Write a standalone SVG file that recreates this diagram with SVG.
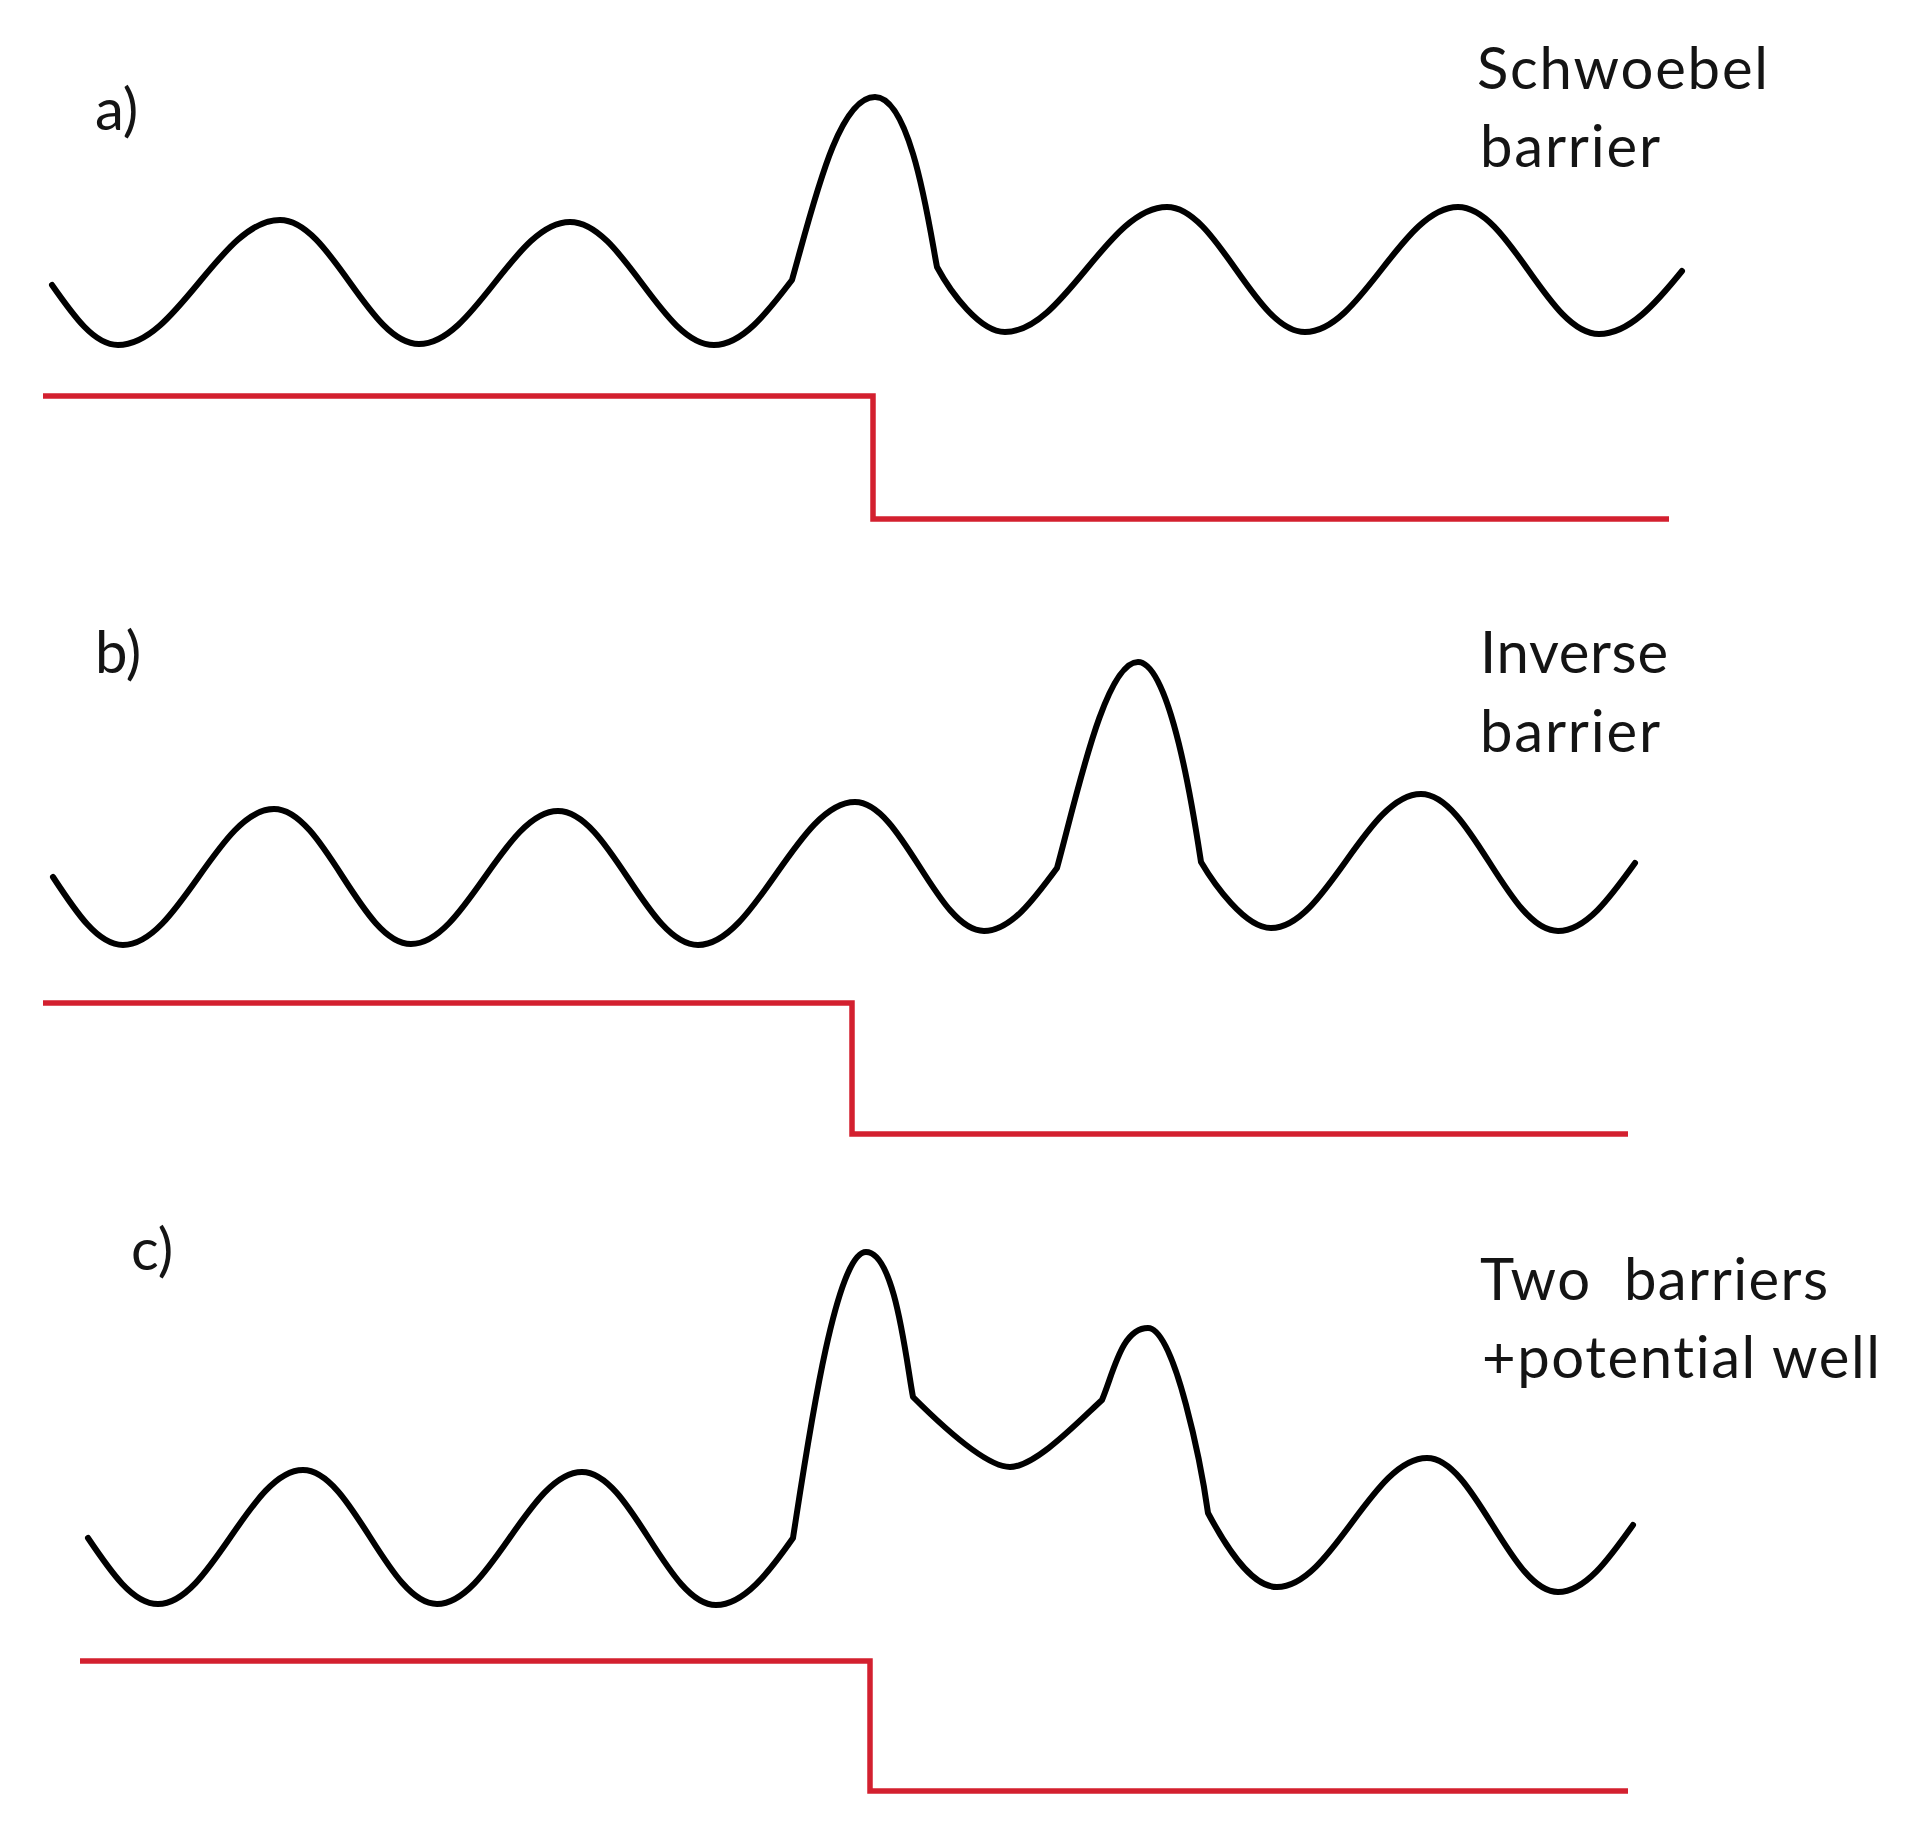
<svg xmlns="http://www.w3.org/2000/svg" width="1912" height="1840" viewBox="0 0 1912 1840">
<style>
.bg{fill:#ffffff}
.wave{fill:none;stroke:#000000;stroke-width:6;stroke-linecap:round;stroke-linejoin:round}
.step{fill:none;stroke:#d3202f;stroke-width:5.5;stroke-linejoin:miter}
.lbl{font-family:Lato,"Liberation Sans","DejaVu Sans",sans-serif;font-size:58px;fill:#141414;font-variant-ligatures:none}
</style>
<rect class="bg" x="0" y="0" width="1912" height="1840"/>
<g id="panel-a">
<text class="lbl" x="95" y="130" font-size="60">a)</text>
<text class="lbl" x="1477" y="89" textLength="291" lengthAdjust="spacing">Schwoebel</text>
<text class="lbl" x="1480" y="167" textLength="180" lengthAdjust="spacing">barrier</text>
<path class="wave" d="M52 285 C73.5 315.7 94.1 345 118 345 C177 345 221 220 280 220 C330.6 220 368.4 344 419 344 C474 344 515 222 570 222 C622.4 222 661.6 345 714 345 C742 345 766.6 313.3 792 280 C814 202 838 97 875 97 C912 97 930 232 937 267 C951 293 980 332 1005 332 C1064 332 1108 207 1167 207 C1217 207 1255 332 1305 332 C1360.7 332 1402.3 207 1458 207 C1509.3 207 1547.7 334 1599 334 C1629 334 1655.9 303.3 1682 271"/>
<path class="step" d="M43 396 H873 V519 H1669"/>
</g>
<g id="panel-b">
<text class="lbl" x="95" y="673" font-size="60">b)</text>
<text class="lbl" x="1480" y="673" textLength="188" lengthAdjust="spacing">Inverse</text>
<text class="lbl" x="1480" y="752" textLength="180" lengthAdjust="spacing">barrier</text>
<path class="wave" d="M53 877 C75.8 911.8 97.7 945 123 945 C178 945 219 809 274 809 C323.9 809 361.1 944 411 944 C464.5 944 504.5 811 558 811 C609 811 647 945 698 945 C755 945 798 802 855 802 C902 802 937 931 984 931 C1010.4 931 1033.2 900.3 1057 868 C1077 795 1105 662 1138 662 C1172 662 1196 830 1201 862 C1214 884 1245 928 1271 928 C1325.6 928 1366.4 794 1421 794 C1470.9 794 1508.1 931 1558 931 C1585.9 931 1609.9 897.8 1635 863"/>
<path class="step" d="M43 1003 H852 V1134 H1628"/>
</g>
<g id="panel-c">
<text class="lbl" x="131" y="1270" font-size="60">c)</text>
<text class="lbl" x="1480" y="1300" xml:space="preserve" textLength="348" lengthAdjust="spacing">Two  barriers</text>
<text class="lbl" x="1482" y="1378" textLength="398" lengthAdjust="spacing">+potential well</text>
<path class="wave" d="M88 1538 C110.8 1571.8 132.7 1604 158 1604 C210.8 1604 250.2 1470 303 1470 C351.8 1470 388.2 1604 437 1604 C489.8 1604 529.2 1472 582 1472 C630.8 1472 667.2 1605 716 1605 C743.9 1605 768.9 1572.3 793 1538 C807 1448 835 1252 866 1252 C895 1252 906 1360 913 1397 C938 1422 985 1467 1010 1467 C1035 1467 1077 1423 1102 1400 C1114 1371 1122 1328 1148 1328 C1175 1328 1202 1470 1208 1513 C1224 1543 1250 1587 1277 1587 C1331.6 1587 1372.4 1458 1427 1458 C1474.7 1458 1510.3 1592 1558 1592 C1585.2 1592 1608.6 1559.3 1633 1525"/>
<path class="step" d="M80 1661 H870 V1791 H1628"/>
</g>
</svg>
